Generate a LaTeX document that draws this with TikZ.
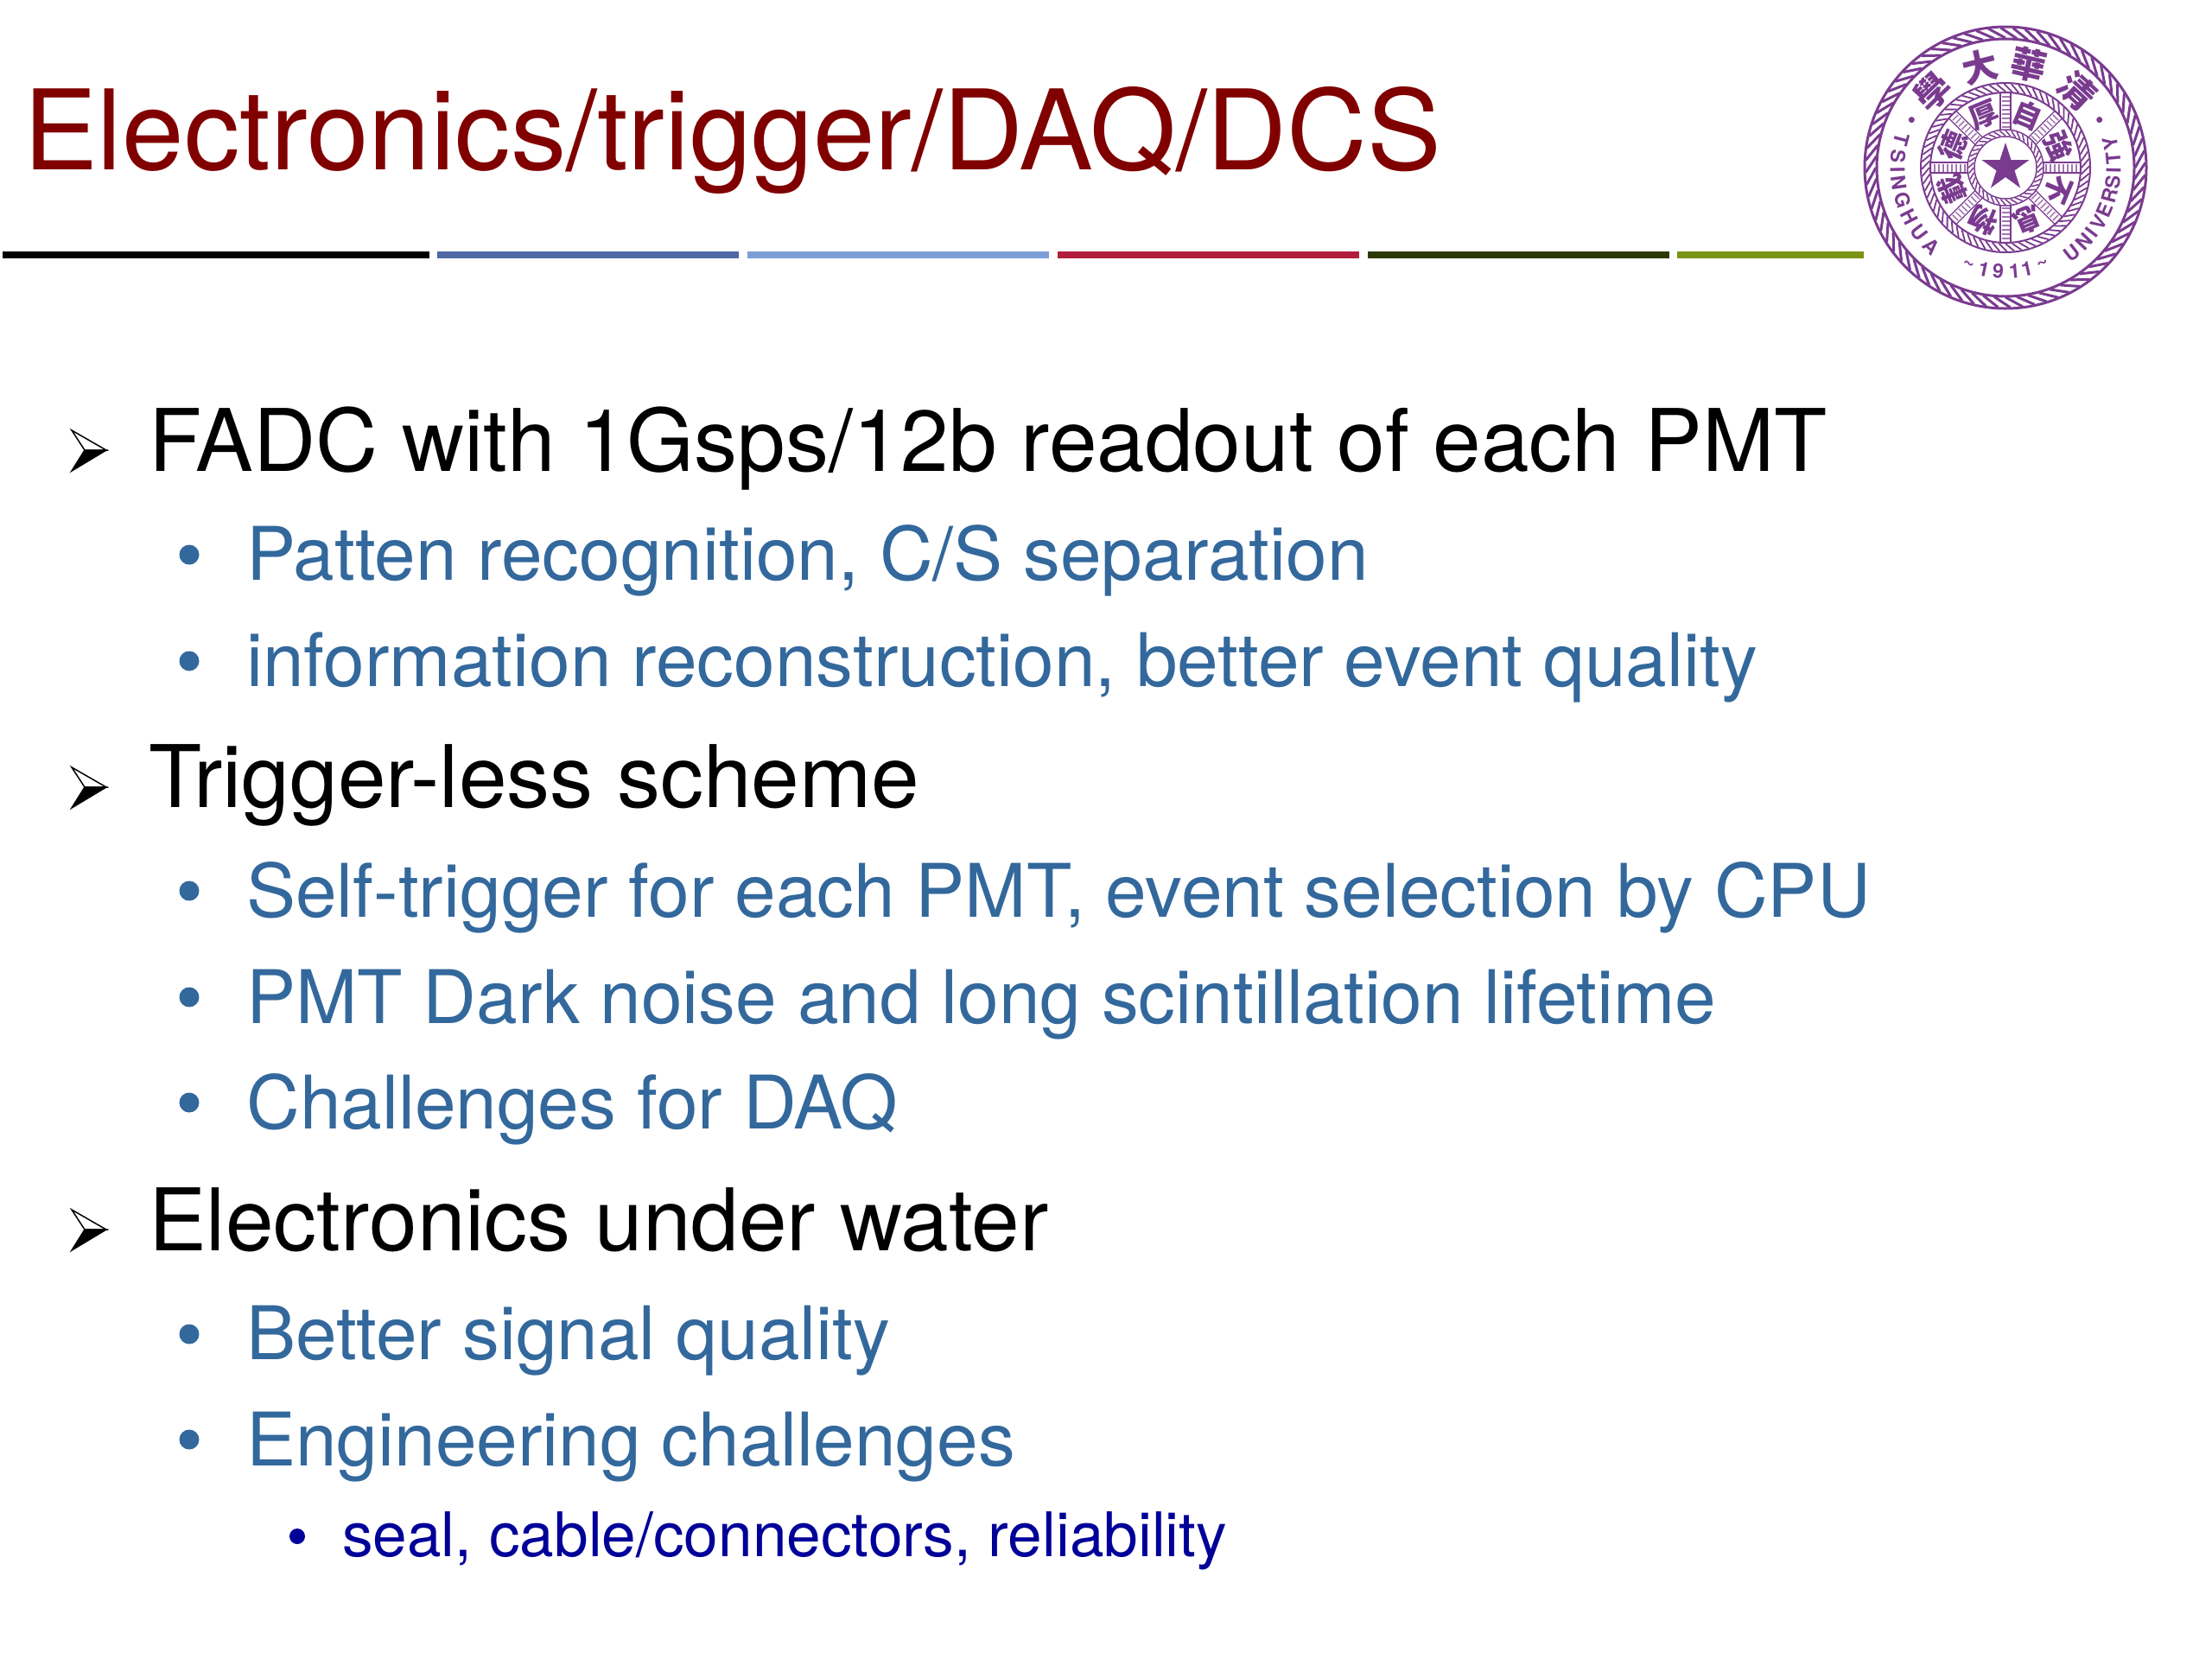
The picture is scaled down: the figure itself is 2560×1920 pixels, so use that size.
\documentclass[tikz,border=0pt]{standalone}
\usepackage{fontspec}
\setmainfont{TeX Gyre Heros}
\newfontfamily\cjk{Noto Sans CJK TC}
\definecolor{titlered}{HTML}{800000}
\definecolor{levtwo}{HTML}{33689C}
\definecolor{levthree}{HTML}{000099}
\definecolor{seal}{HTML}{7A3B8F}
\definecolor{rulea}{HTML}{000000}
\definecolor{ruleb}{HTML}{4F69A6}
\definecolor{rulec}{HTML}{7C9FD8}
\definecolor{ruled}{HTML}{B01E3C}
\definecolor{rulee}{HTML}{2B3A05}
\definecolor{rulef}{HTML}{7A9414}
\tikzset{
  x=1pt,y=-1pt,
  titletext/.style={anchor=base west,inner sep=0pt,text=titlered,font=\fontsize{128.6}{128.6}\selectfont},
  levone/.style={anchor=base west,inner sep=0pt,text=black,font=\fontsize{100}{100}\selectfont},
  levtwotext/.style={anchor=base west,inner sep=0pt,text=levtwo,font=\fontsize{85.6}{85.6}\selectfont},
  levthreetext/.style={anchor=base west,inner sep=0pt,text=levthree,font=\fontsize{71.2}{71.2}\selectfont},
  dottwo/.style={circle,fill=levtwo,inner sep=0pt,minimum size=23pt},
  dotthree/.style={circle,fill=levthree,inner sep=0pt,minimum size=18pt},
  rulebar/.style={line width=7.5pt},
  sealline/.style={draw=seal},
  sealletter/.style={inner sep=0pt,text=seal,font=\fontsize{23}{23}\bfseries\selectfont},
  sealhan/.style={inner sep=0pt,text=seal,font=\cjk\bfseries\fontsize{41}{41}\selectfont},
  sealmotto/.style={inner sep=0pt,text=seal,font=\cjk\bfseries\fontsize{33}{33}\selectfont},
}
\newcommand{\arrowbullet}[1]{%
  \begin{scope}[shift={(0,#1)}]
    \fill[white,draw=black,line width=1.5pt] (83,-23) -- (123,0) -- (98,0) -- cycle;
    \fill[black,draw=black,line width=1.5pt] (83,24) -- (123,0) -- (98,0) -- cycle;
  \end{scope}}
\begin{document}
\begin{tikzpicture}
\useasboundingbox (0,0) rectangle (2560,1920);
\fill[white] (0,0) rectangle (2560,1920);
\node[titletext] (title) at (27,196) {Electronics/trigger/DAQ/DCS};
\draw[rulebar,rulea] (3,295) -- (497,295);
\draw[rulebar,ruleb] (506,295) -- (855,295);
\draw[rulebar,rulec] (865,295) -- (1214,295);
\draw[rulebar,ruled] (1224,295) -- (1573,295);
\draw[rulebar,rulee] (1583,295) -- (1932,295);
\draw[rulebar,rulef] (1941,295) -- (2157,295);
%
\arrowbullet{521}
\node[levone] (a1) at (172,545) {FADC with 1Gsps/12b readout of each PMT};
\node[dottwo] (d1) at (219,642) {};
\node[levtwotext] (b1) at (285,671) {Patten recognition, C/S separation};
\node[dottwo] (d2) at (219,765) {};
\node[levtwotext] (b2) at (285,794) {information reconstruction, better event quality};
\arrowbullet{911}
\node[levone] (a2) at (172,934) {Trigger-less scheme};
\node[dottwo] (d3) at (219,1031) {};
\node[levtwotext] (b3) at (285,1061) {Self-trigger for each PMT, event selection by CPU};
\node[dottwo] (d4) at (219,1154) {};
\node[levtwotext] (b4) at (285,1184) {PMT Dark noise and long scintillation lifetime};
\node[dottwo] (d5) at (219,1276) {};
\node[levtwotext] (b5) at (285,1306) {Challenges for DAQ};
\arrowbullet{1423}
\node[levone] (a3) at (172,1447) {Electronics under water};
\node[dottwo] (d6) at (219,1544) {};
\node[levtwotext] (b6) at (285,1573) {Better signal quality};
\node[dottwo] (d7) at (219,1666) {};
\node[levtwotext] (b7) at (285,1696) {Engineering challenges};
\node[dotthree] (d8) at (344,1778) {};
\node[levthreetext] (c1) at (396,1801) {seal, cable/connectors, reliability};
%
\begin{scope}[shift={(2321,194)},y=1pt]
  \coordinate (sealc) at (0,0);
  \draw[sealline,line width=3pt] (0,0) circle (163);
  \draw[sealline,line width=3pt] (0,0) circle (149);
  \foreach \a in {0,5,...,355}
    \draw[sealline,line width=3pt] (\a:150) -- (\a+7:162);
  \draw[sealline,line width=2pt] (0,0) circle (98);
  \draw[sealline,line width=2pt] (0,0) circle (87);
  \foreach \a in {0,5,...,355}
    \draw[sealline,line width=1.8pt] (\a:88) -- (\a+6:97);
  \draw[sealline,line width=1.5pt] (0,0) circle (44);
  \draw[sealline,line width=1.5pt] (0,0) circle (36);
  \foreach \a in {0,9,...,351}
    \draw[sealline,line width=1.5pt] (\a:37) -- (\a+9:43);
  \foreach \a in {0,45,...,315} {
    \begin{scope}[rotate=\a]
      \draw[sealline,line width=1.2pt] (44,-6) -- (87,-6) (44,6) -- (87,6);
      \foreach \r in {47,52,...,85}
        \draw[sealline,line width=1.5pt,color=seal!70] (\r,-4.5) -- (\r,4.5);
    \end{scope}
  }
  \fill[seal] (90:29) -- (126:11) -- (162:29) -- (198:11) -- (234:29) -- (270:11) -- (306:29) -- (342:11) -- (18:29) -- (54:11) -- cycle;
  \foreach \n/\t/\a/\rr in {q1/學/134/122,q2/大/104/120,q3/華/77/122,q4/清/47/122}
    \node[sealhan,rotate=\a-90] (\n) at (\a:\rr) {\t};
  \node[circle,fill=seal,inner sep=0pt,minimum size=7pt] (dotl) at (153:122) {};
  \node[circle,fill=seal,inner sep=0pt,minimum size=7pt] (dotr) at (27:122) {};
  \foreach \n/\t/\a in {m1/自/67.5,m2/強/22.5,m3/不/-22.5,m4/息/-67.5,m5/物/-112.5,m6/載/-157.5,m7/德/157.5,m8/厚/112.5}
    \node[sealmotto,rotate=\a-90] (\n) at (\a:66) {\t};
  \foreach \n/\t/\a in {t1/T/165,t2/S/174,t3/I/181,t4/N/188,t5/G/197.5,t6/H/207,t7/U/217,t8/A/226.5,
      u1/U/308,u2/N/316.5,u3/I/323,u4/V/329.5,u5/E/337,u6/R/345,u7/S/352.5,u8/I/358.5,u9/T/5,u10/Y/13}
    \node[sealletter,rotate=\a+90] (\n) at (\a:125) {\t};
  \foreach \n/\t/\a in {y1/\textasciitilde/249,y2/1/258,y3/9/266,y4/1/275,y5/1/282,y6/\textasciitilde/291}
    \node[sealletter,rotate=\a+90] (\n) at (\a:120) {\t};
\end{scope}
\end{tikzpicture}
\end{document}
